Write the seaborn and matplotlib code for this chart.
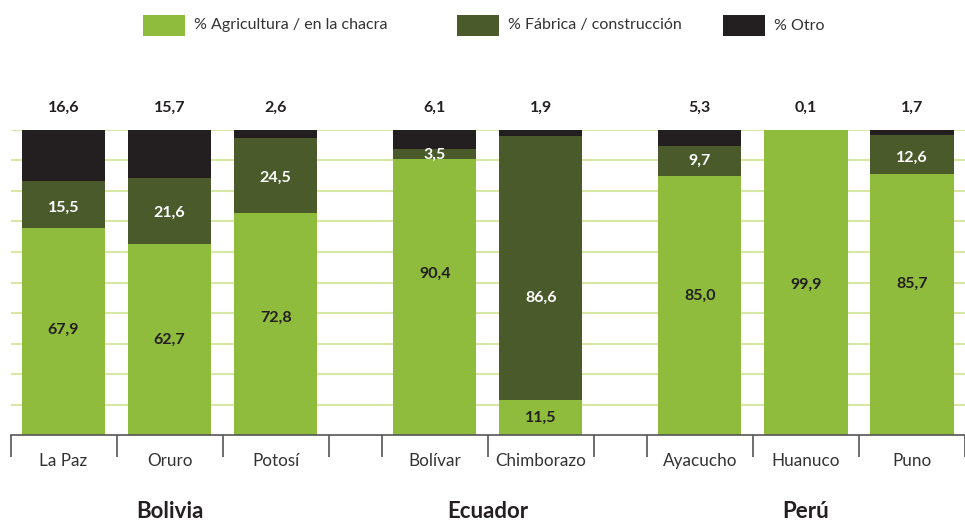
import numpy as np
import pandas as pd
import seaborn as sns
import matplotlib.pyplot as plt
from matplotlib.patches import Rectangle

regions = ['La Paz', 'Oruro', 'Potosí', 'Bolívar', 'Chimborazo', 'Ayacucho', 'Huanuco', 'Puno']
countries = ['Bolivia', 'Ecuador', 'Perú']
country_of = [0, 0, 0, 1, 1, 2, 2, 2]
agricultura = [67.9, 62.7, 72.8, 90.4, 11.5, 85.0, 99.9, 85.7]
fabrica = [15.5, 21.6, 24.5, 3.5, 86.6, 9.7, 0.0, 12.6]
otro = [16.6, 15.7, 2.6, 6.1, 1.9, 5.3, 0.1, 1.7]
series_names = ['% Agricultura / en la chacra', '% Fábrica / construcción', '% Otro']

# where the in-bar labels sit (layout only, as in the original)
agr_label_y = [34.4, 31.1, 38.4, 52.8, 5.6, 45.6, 49.2, 49.5]
fab_label_y = [74.6, 72.8, 84.3, 91.8, 44.9, 89.8, None, 90.8]

C_AGR = '#8fbc3c'
C_FAB = '#4a5a2a'
C_OTR = '#231f20'
C_GRID = '#d6e8a4'

# positions: bars in a group 1 apart, half-slot gap between countries
pos = []
x = 0.0
for i, c in enumerate(country_of):
    if i > 0 and c != country_of[i - 1]:
        x += 0.5
    pos.append(x)
    x += 1.0

df = pd.DataFrame({'pos': pos, 'region': regions, 'agr': agricultura,
                   'fab': fabrica, 'otro': otro})
df['cum2'] = df['agr'] + df['fab']
df['cum3'] = df['cum2'] + df['otro']

sns.set_style('white')
plt.rcParams['font.family'] = ['Lato', 'DejaVu Sans']

fig = plt.figure(figsize=(9.65, 5.21), dpi=100)
ax = fig.add_axes([10.5 / 965, 86 / 521, 954.5 / 965, 305 / 521])

W = 0.785
for col, colr in [('cum3', C_OTR), ('cum2', C_FAB), ('agr', C_AGR)]:
    sns.barplot(data=df, x='pos', y=col, native_scale=True, color=colr,
                width=W, errorbar=None, saturation=1, linewidth=0,
                ax=ax, zorder=2)

ax.set_ylim(0, 100)
ax.set_xlim(-0.5, -0.5 + 954.5 / 106.6)
ax.set_yticks(np.arange(10, 101, 10))
ax.yaxis.grid(True, color=C_GRID, linewidth=1.5, zorder=0)
ax.set_axisbelow(True)
ax.tick_params(axis='y', left=False, labelleft=False)
for s in ['top', 'right', 'left']:
    ax.spines[s].set_visible(False)
ax.spines['bottom'].set_color('#555555')
ax.spines['bottom'].set_linewidth(1.2)
ax.spines['bottom'].set_zorder(3)
ax.set_xlabel('')
ax.set_ylabel('')

# boundary ticks
bounds = []
for i, p in enumerate(pos):
    bounds.append(p - 0.5)
    if i == len(pos) - 1 or country_of[i + 1] != country_of[i]:
        bounds.append(p + 0.5)
ax.set_xticks(sorted(set(bounds)))
ax.set_xticklabels([])
ax.tick_params(axis='x', which='major', bottom=True, length=16, width=1.2,
               color='#555555', direction='out')
ax.set_xticks(pos, minor=True)
ax.set_xticklabels(regions, minor=True, fontsize=12.3, color='#333333')
ax.tick_params(axis='x', which='minor', length=0, pad=13)


def fmt(v):
    return f"{v:.1f}".replace('.', ',')


# value labels
for i, r in df.iterrows():
    ax.text(r['pos'], 100 + 7.3, fmt(r['otro']), ha='center', va='center',
            fontsize=11.5, fontweight='bold', color='#231f20', clip_on=False)
    ax.text(r['pos'], agr_label_y[i], fmt(r['agr']), ha='center', va='center',
            fontsize=11.5, fontweight='bold', color='#231f20')
    if r['fab'] > 0:
        ax.text(r['pos'], fab_label_y[i], fmt(r['fab']), ha='center', va='center',
                fontsize=11.5, fontweight='bold', color='white')

# country labels
for k, c in enumerate(countries):
    ps = [p for p, ci in zip(pos, country_of) if ci == k]
    ax.text(np.mean(ps), -25, c, ha='center', va='center', fontsize=16,
            fontweight='bold', color='#231f20', clip_on=False)

# legend, laid out by hand like the original (uneven gaps)
leg_x = [143, 457, 723]
for lx, name, colr in zip(leg_x, series_names, [C_AGR, C_FAB, C_OTR]):
    fig.add_artist(Rectangle((lx / 965, 1 - 36 / 521), 42 / 965, 21 / 521,
                             transform=fig.transFigure, color=colr, lw=0))
    fig.text((lx + 51) / 965, 1 - 25.5 / 521, name, ha='left', va='center',
             fontsize=11.5, color='#333333')

fig.savefig('out.png', dpi=100)
